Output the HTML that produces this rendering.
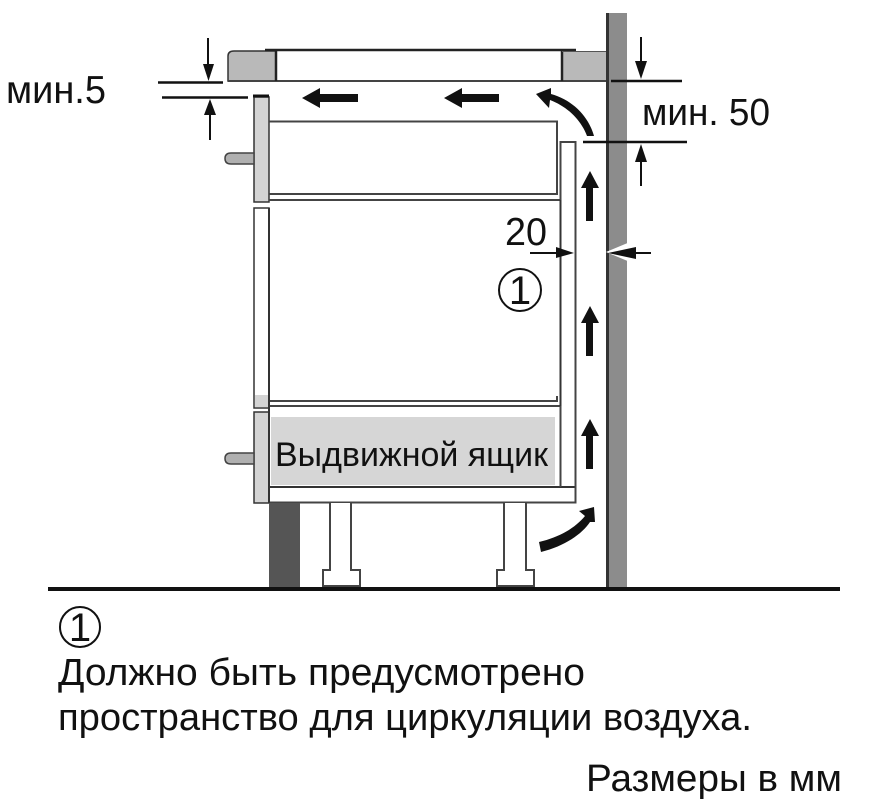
<!DOCTYPE html>
<html><head><meta charset="utf-8"><style>
html,body{margin:0;padding:0;background:#fff;width:896px;height:811px;overflow:hidden}
svg{display:block}
text{font-family:"Liberation Sans",sans-serif;fill:#111}
</style></head><body>
<svg width="896" height="811" viewBox="0 0 896 811" xmlns="http://www.w3.org/2000/svg">
<rect width="896" height="811" fill="#fff"/>
<!-- wall -->
<rect x="606" y="13" width="21" height="574" fill="#8c8c8c"/>
<rect x="606" y="13" width="3" height="574" fill="#333"/>
<polygon points="606,252 630,242 630,262" fill="#fff"/>
<!-- hob -->
<path d="M228,81V56Q228,51 234,51H276V81Z" fill="#b9b9b9" stroke="#333" stroke-width="1.5"/>
<rect x="562" y="51" width="44" height="30" fill="#b9b9b9"/>
<path d="M265,50H576" stroke="#222" stroke-width="2.5"/>
<path d="M228,81H606" stroke="#444" stroke-width="2"/>
<path d="M276,51V81M562,51V81" stroke="#222" stroke-width="2.5"/>
<path d="M562,51.500H606" stroke="#555" stroke-width="1"/>
<!-- upper front -->
<rect x="254" y="97" width="15" height="105" fill="#d4d4d4" stroke="#333" stroke-width="1.500"/>
<path d="M253,96H269" stroke="#111" stroke-width="3"/>
<path d="M269,121.500H557V194H269M269,200H560" fill="none" stroke="#444" stroke-width="2"/>
<path d="M254,153H231Q225,153 225,158.500Q225,164 231,164H254Z" fill="#b0b0b0" stroke="#444" stroke-width="1.500"/>
<!-- middle front -->
<rect x="254" y="208" width="15" height="200" fill="#fff" stroke="#333" stroke-width="1.500"/>
<rect x="255" y="395" width="13" height="12" fill="#d4d4d4"/>
<path d="M269,401H557V396M269,406H560" fill="none" stroke="#444" stroke-width="2"/>
<!-- lower front -->
<rect x="254" y="412" width="15" height="91" fill="#d4d4d4" stroke="#333" stroke-width="1.500"/>
<path d="M254,453H231Q225,453 225,458.500Q225,464 231,464H254Z" fill="#b0b0b0" stroke="#444" stroke-width="1.500"/>
<!-- drawer -->
<rect x="271" y="417" width="284" height="68" fill="#d6d6d6"/>
<path d="M270,487H575" stroke="#333" stroke-width="2"/>
<path d="M269,502.500H575.500V142H560.500V487" fill="none" stroke="#444" stroke-width="2"/>
<path d="M560.500,200V406" stroke="#333" stroke-width="2"/>
<path d="M269,208V503" stroke="#333" stroke-width="2"/>
<!-- plinth -->
<rect x="269" y="503" width="31" height="84" fill="#555"/>
<!-- legs -->
<path d="M330,503V570H323V586H360V570H351V503" fill="#fff" stroke="#444" stroke-width="2"/>
<path d="M504,503V570H497V586H534V570H526V503" fill="#fff" stroke="#444" stroke-width="2"/>
<!-- floor -->
<path d="M48,589H840" stroke="#111" stroke-width="4"/>
<!-- dims -->
<g stroke="#111" stroke-width="2.500" fill="none">
<path d="M158,82.500H223M162,97.500H248"/>
<path d="M611,81H682M583,142H687"/>
</g>
<g stroke="#111" stroke-width="2" fill="none">
<path d="M208,38V65M210,112V140M641,37V62M641,160V186"/>
<path d="M530,253H560M613,253H651"/>
</g>
<g fill="#111">
<polygon points="203,64 214,64 208.500,81"/>
<polygon points="204,115 216,115 210,99"/>
<polygon points="635,61 647,61 641,79"/>
<polygon points="635,162 647,162 641,144"/>
<polygon points="556,247 556,258 574,253"/>
<polygon points="636,247 636,259 608,253"/>
<!-- air arrows -->
<polygon points="302,98 320,88 320,94 358,94 358,102 320,102 320,108"/>
<polygon points="444,98 462,88 462,94 499,94 499,102 462,102 462,108"/>
<path d="M594,136 L587,136 C581,120 568,107 550,100 L549,108 L536,94 L551,88 L551,94 C572,100 588,115 594,136Z"/>
<polygon points="590,171 599,188 593,188 593,221 586,221 586,188 581,188"/>
<polygon points="590,306 599,323 593,323 593,356 586,356 586,323 581,323"/>
<polygon points="590,419 599,436 593,436 593,469 586,469 586,436 581,436"/>
<path d="M539,542 L541,552 C565,546 582,534 590,522 L595,522 L594,507 L579,511 L585,516 C575,528 560,537 539,542Z"/>
</g>
<!-- labels -->
<text x="6" y="103" font-size="39" textLength="100" lengthAdjust="spacingAndGlyphs">мин.5</text>
<text x="642" y="125" font-size="38" textLength="128" lengthAdjust="spacingAndGlyphs">мин. 50</text>
<text x="505" y="245" font-size="39" textLength="42" lengthAdjust="spacingAndGlyphs">20</text>
<circle cx="520" cy="290" r="21" fill="none" stroke="#111" stroke-width="2"/>
<text x="520" y="304" font-size="40" text-anchor="middle">1</text>
<text x="275" y="466" font-size="34" textLength="273" lengthAdjust="spacingAndGlyphs">Выдвижной ящик</text>
<circle cx="80" cy="627" r="20" fill="none" stroke="#111" stroke-width="2"/>
<text x="80" y="641" font-size="40" text-anchor="middle">1</text>
<text x="58" y="685" font-size="38" textLength="527" lengthAdjust="spacingAndGlyphs">Должно быть предусмотрено</text>
<text x="58" y="730" font-size="38" textLength="694" lengthAdjust="spacingAndGlyphs">пространство для циркуляции воздуха.</text>
<text x="586" y="791" font-size="38" textLength="256" lengthAdjust="spacingAndGlyphs">Размеры в мм</text>
</svg>
</body></html>
